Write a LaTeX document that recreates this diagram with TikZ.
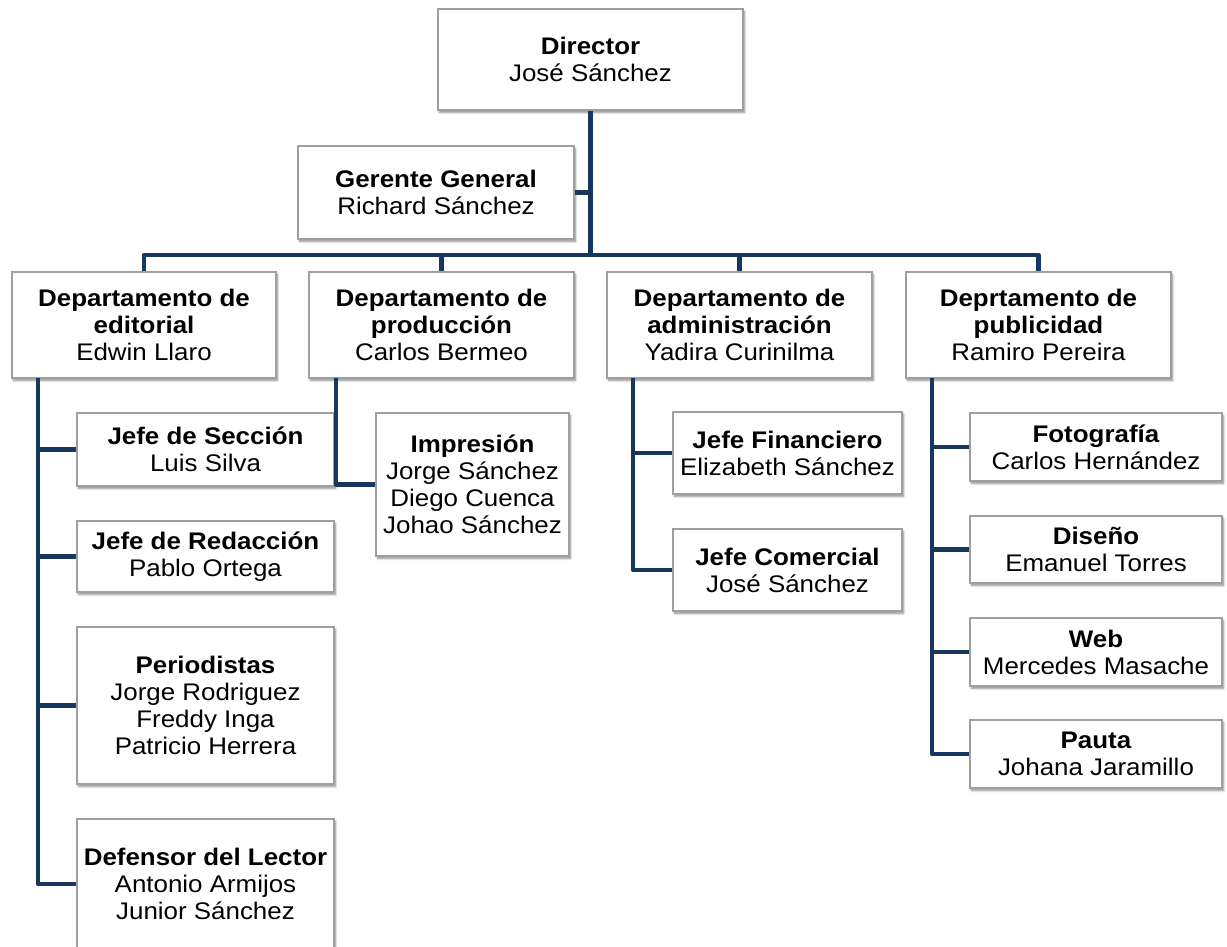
\documentclass[tikz,border=0pt]{standalone}
\usepackage{fontspec}
\setmainfont{Liberation Sans}[FakeStretch=1.08]
\usetikzlibrary{shadows.blur}
\definecolor{azul}{HTML}{17375E}
\begin{document}
\begin{tikzpicture}[x=1pt, y=-1pt,
  caja/.style={draw=gray!75, line width=1.2pt, fill=white, inner sep=0pt, align=center,
    font=\fontsize{24}{27}\selectfont,
    blur shadow={shadow xshift=1.5pt, shadow yshift=-2.5pt, shadow blur steps=6, shadow opacity=45}},
  linea/.style={draw=azul, line width=4.5pt, line join=round}]
\useasboundingbox (0,0) rectangle (1227,946);
\node[caja, minimum width=305, minimum height=101] (dir) at (590.5, 59.5) {\textbf{Director}\\José Sánchez};
\node[caja, minimum width=276, minimum height=93] (ger) at (436, 192.5) {\textbf{Gerente General}\\Richard Sánchez};
\node[caja, minimum width=264, minimum height=106] (ed) at (144, 325) {\textbf{Departamento de}\\\textbf{editorial}\\Edwin Llaro};
\node[caja, minimum width=265, minimum height=106] (pr) at (441.5, 325) {\textbf{Departamento de}\\\textbf{producción}\\Carlos Bermeo};
\node[caja, minimum width=265, minimum height=106] (ad) at (739.5, 325) {\textbf{Departamento de}\\\textbf{administración}\\Yadira Curinilma};
\node[caja, minimum width=265, minimum height=106] (pu) at (1038.5, 325) {\textbf{Deprtamento de}\\\textbf{publicidad}\\Ramiro Pereira};
\node[caja, minimum width=257, minimum height=73] (sec) at (205.5, 449.5) {\textbf{Jefe de Sección}\\Luis Silva};
\node[caja, minimum width=257, minimum height=71] (red) at (205.5, 556.5) {\textbf{Jefe de Redacción}\\Pablo Ortega};
\node[caja, minimum width=257, minimum height=157] (per) at (205.5, 705.5) {\textbf{Periodistas}\\Jorge Rodriguez\\Freddy Inga\\Patricio Herrera};
\node[caja, minimum width=257, minimum height=130] (def) at (205.5, 884) {\textbf{Defensor del Lector}\\Antonio Armijos\\Junior Sánchez};
\node[caja, minimum width=193, minimum height=143] (imp) at (472.5, 484.5) {\textbf{Impresión}\\Jorge Sánchez\\Diego Cuenca\\Johao Sánchez};
\node[caja, minimum width=229, minimum height=82] (jf) at (787.5, 453) {\textbf{Jefe Financiero}\\Elizabeth Sánchez};
\node[caja, minimum width=229, minimum height=82] (jc) at (787.5, 570) {\textbf{Jefe Comercial}\\José Sánchez};
\node[caja, minimum width=252, minimum height=68] (foto) at (1096, 447) {\textbf{Fotografía}\\Carlos Hernández};
\node[caja, minimum width=252, minimum height=67] (dis) at (1096, 549.5) {\textbf{Diseño}\\Emanuel Torres};
\node[caja, minimum width=252, minimum height=68] (web) at (1096, 652) {\textbf{Web}\\Mercedes Masache};
\node[caja, minimum width=252, minimum height=68] (pau) at (1096, 754) {\textbf{Pauta}\\Johana Jaramillo};
\coordinate (bus) at (591, 255);
\coordinate (eds) at (38, 378);
\coordinate (prs) at (336, 378);
\coordinate (ads) at (633, 378);
\coordinate (pus) at (932, 378);
\path[linea] (dir.south) -- (dir.south |- bus);
\path[linea] (ger.east) -- (ger.east -| dir.south);
\path[linea] (ed.north) -- (ed.north |- bus) -- (pu.north |- bus) -- (pu.north);
\path[linea] (pr.north) -- (pr.north |- bus);
\path[linea] (ad.north) -- (ad.north |- bus);
\path[linea] (eds) |- (def.west);
\path[linea] (eds |- sec.west) -- (sec.west);
\path[linea] (eds |- red.west) -- (red.west);
\path[linea] (eds |- per.west) -- (per.west);
\path[linea] (prs) |- (imp.west);
\path[linea] (ads) |- (jc.west);
\path[linea] (ads |- jf.west) -- (jf.west);
\path[linea] (pus) |- (pau.west);
\path[linea] (pus |- foto.west) -- (foto.west);
\path[linea] (pus |- dis.west) -- (dis.west);
\path[linea] (pus |- web.west) -- (web.west);
\end{tikzpicture}
\end{document}
